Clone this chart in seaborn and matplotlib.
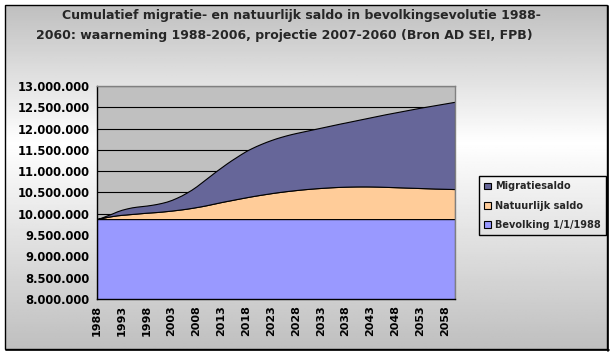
import matplotlib
matplotlib.use("Agg")
import matplotlib.pyplot as plt
from matplotlib.patches import Patch, Rectangle
from matplotlib.ticker import FuncFormatter, MultipleLocator
import numpy as np
import pandas as pd
import seaborn as sns


YEARS = list(range(1988, 2061))

BASE_POPULATION = 9876000

# cumulative natural balance since 1/1/1988 (thousands)
NATURAL_K = [
    0, 25, 50, 70, 88, 100, 110, 120, 130, 140,
    150, 158, 166, 176, 188, 200, 214, 228, 244, 262,
    282, 302, 325, 350, 375, 400, 423, 445, 468, 490,
    512, 533, 553, 572, 590, 608, 625, 640, 655, 668,
    681, 693, 704, 714, 723, 731, 739, 746, 752, 757,
    761, 764, 766, 767, 767, 766, 764, 761, 757, 753,
    749, 745, 741, 737, 733, 729, 725, 721, 717, 714,
    711, 708, 705,
]

# cumulative migration balance since 1/1/1988 (thousands)
MIGRATION_K = [
    0, 15, 35, 60, 92, 120, 140, 155, 162, 165,
    168, 177, 189, 204, 222, 250, 286, 327, 376, 428,
    488, 558, 625, 690, 755, 815, 877, 935, 987, 1040,
    1088, 1127, 1162, 1193, 1222, 1247, 1270, 1290, 1308, 1325,
    1339, 1352, 1366, 1381, 1397, 1414, 1431, 1449, 1468, 1488,
    1507, 1528, 1550, 1573, 1597, 1622, 1648, 1675, 1703, 1729,
    1755, 1781, 1807, 1833, 1859, 1885, 1909, 1933, 1957, 1980,
    2003, 2026, 2049,
]

SERIES_NAMES = ["Bevolking 1/1/1988", "Natuurlijk saldo", "Migratiesaldo"]
COLORS = ["#9999FF", "#FFCC99", "#666699"]

TITLE_LINE1 = "Cumulatief migratie- en natuurlijk saldo in bevolkingsevolutie 1988-"
TITLE_LINE2 = "2060: waarneming 1988-2006, projectie 2007-2060 (Bron AD SEI, FPB)"


def thousands_dots(value, pos=None):
    return f"{value:,.0f}".replace(",", ".")


def main():
    df = pd.DataFrame({
        "year": YEARS,
        SERIES_NAMES[0]: [BASE_POPULATION] * len(YEARS),
        SERIES_NAMES[1]: [v * 1000 for v in NATURAL_K],
        SERIES_NAMES[2]: [v * 1000 for v in MIGRATION_K],
    })
    df["pos"] = np.arange(len(df))

    sns.set_theme(style="white")
    plt.rcParams["font.family"] = ["DejaVu Sans"]

    fig = plt.figure(figsize=(6.14, 3.56), dpi=100)
    fig.patch.set_facecolor("white")

    # chart area gradient background with black frame
    W, H = 614, 356
    x0, y0, x1, y1 = 5, 5, 607, 349
    bg = fig.add_axes([x0 / W, 1 - y1 / H, (x1 - x0) / W, (y1 - y0) / H], zorder=0)
    t = np.linspace(0, 1, 200)
    shade = np.where(t < 0.4, 0.75 + 0.25 * t / 0.4, 1 - 0.25 * (t - 0.4) / 0.6)
    grad = np.repeat(shade[:, None], 2, axis=1)
    bg.imshow(grad, cmap="gray", vmin=0, vmax=1, aspect="auto", extent=[0, 1, 0, 1])
    bg.set_xticks([])
    bg.set_yticks([])
    for side in bg.spines.values():
        side.set_visible(False)
    fig.patches.append(Rectangle((x0 / W, 1 - y1 / H), (x1 - x0) / W, (y1 - y0) / H,
                                 transform=fig.transFigure, fill=False,
                                 edgecolor="black", linewidth=1.0, zorder=1))
    fig.lines.append(plt.Line2D([x1 / W + 0.0016, x1 / W + 0.0016],
                                [1 - (y1 + 1.5) / H, 1 - (y0 + 1) / H],
                                transform=fig.transFigure, color="black", linewidth=1.2))
    fig.lines.append(plt.Line2D([(x0 + 1) / W, (x1 + 1.5) / W],
                                [1 - (y1 + 1) / H, 1 - (y1 + 1) / H],
                                transform=fig.transFigure, color="black", linewidth=1.2))

    ax = fig.add_axes([97 / W, 1 - 299 / H, 358 / W, 213 / H], zorder=2)
    ax.set_facecolor("#C0C0C0")

    ax.stackplot(
        df["pos"],
        df[SERIES_NAMES[0]], df[SERIES_NAMES[1]], df[SERIES_NAMES[2]],
        colors=COLORS, edgecolor="black", linewidth=0.8, zorder=2,
    )

    ax.set_xlim(0, len(YEARS) - 1)
    ax.set_ylim(8000000, 13000000)
    ax.yaxis.set_major_locator(MultipleLocator(500000))
    ax.yaxis.set_major_formatter(FuncFormatter(thousands_dots))
    ax.grid(axis="y", color="black", linewidth=0.8, zorder=1)
    ax.set_axisbelow(True)

    ax.set_xticks(df["pos"])
    ax.set_xticklabels([str(y) if i % 5 == 0 else "" for i, y in enumerate(YEARS)],
                       rotation=90)
    ax.tick_params(axis="both", which="major", direction="out", length=2.5, width=0.8,
                   color="black", pad=2, labelsize=8)
    ax.tick_params(axis="y", pad=3, labelsize=8.3)
    for label in ax.get_xticklabels() + ax.get_yticklabels():
        label.set_fontweight("bold")
        label.set_color("black")
    ax.set_xlabel("")
    ax.set_ylabel("")

    for side in ["left", "bottom"]:
        ax.spines[side].set_color("black")
        ax.spines[side].set_linewidth(1.0)
    for side in ["top", "right"]:
        ax.spines[side].set_color("#808080")
        ax.spines[side].set_linewidth(1.0)

    handles = [Patch(facecolor=COLORS[i], edgecolor="black", linewidth=0.8,
                     label=SERIES_NAMES[i]) for i in [2, 1, 0]]
    leg = fig.legend(
        handles=handles, loc="upper left", bbox_to_anchor=(479 / W, 1 - 176 / H),
        frameon=True, fancybox=False, framealpha=1, facecolor="none", edgecolor="black",
        prop={"weight": "bold", "size": 7}, handlelength=0.7, handleheight=0.7,
        handletextpad=0.4, labelspacing=0.95, borderpad=0.55, borderaxespad=0,
    )
    leg.get_frame().set_linewidth(1.0)
    leg.get_frame().set_edgecolor("black")
    leg.set_zorder(3)

    fig.text(301.5 / W, 1 - 16 / H, TITLE_LINE1, ha="center", va="center",
             fontsize=9, fontweight="bold")
    fig.text(284 / W, 1 - 35 / H, TITLE_LINE2, ha="center", va="center",
             fontsize=9, fontweight="bold")

    fig.savefig("out.png", dpi=100)
    plt.close(fig)


if __name__ == "__main__":
    main()
